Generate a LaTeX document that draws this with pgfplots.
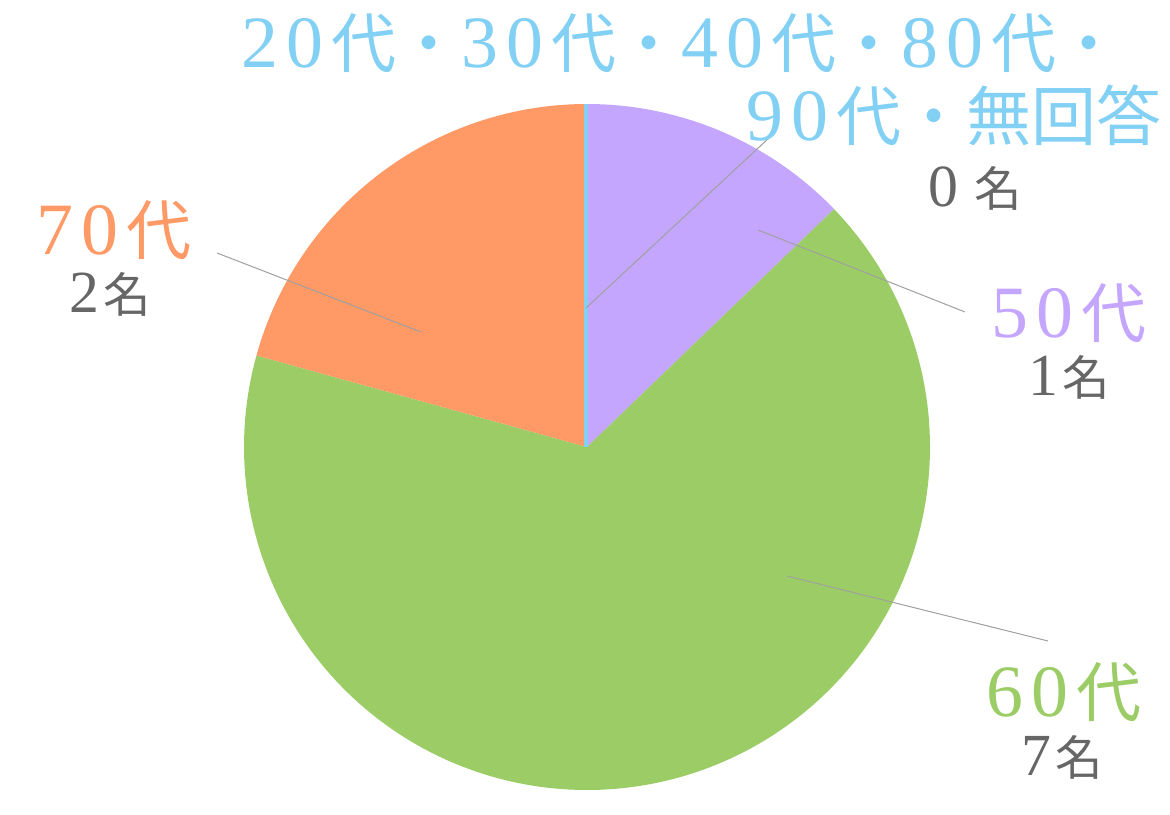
\documentclass[border=0pt]{standalone}
\usepackage{pgfplots}
\pgfplotsset{compat=1.18}
\usepackage{fontspec}
\setmainfont{Liberation Serif}
\newfontfamily\jp{Noto Sans CJK JP}
\definecolor{cBlue}{HTML}{83D0F5}
\definecolor{cPurple}{HTML}{C4A6FF}
\definecolor{cGreen}{HTML}{9BCC66}
\definecolor{cOrange}{HTML}{FF9966}
\definecolor{cText}{HTML}{666666}
\definecolor{cLine}{HTML}{A0A0A0}
% big labels: digits and kanji
\newcommand\bd[1]{{\fontsize{21}{21}\selectfont #1\kern0.8mm}}
\newcommand\bk[1]{{\jp\fontsize{18.5}{18.5}\selectfont #1}}
% small labels
\newcommand\sd[1]{{\fontsize{17}{17}\selectfont #1\kern0.4mm}}
\newcommand\sk[1]{{\jp\fontsize{13.5}{13.5}\selectfont #1}}
% shares of the circle (percent), clockwise from the top
\def\sBlue{0}
\def\sFifty{12.8}
\def\sSixty{66.5}
\def\sSeventy{20.7}
\begin{document}
\begin{tikzpicture}
\begin{axis}[scale only axis, width=117mm, height=81.4mm,
  xmin=0, xmax=1170, ymin=0, ymax=814, y dir=reverse,
  axis lines=none, clip=false, samples=181]
\pgfmathsetmacro{\aA}{-90+3.6*\sBlue}
\pgfmathsetmacro{\aB}{\aA+3.6*\sFifty}
\pgfmathsetmacro{\aC}{\aB+3.6*\sSixty}
\pgfmathsetmacro{\aD}{\aC+3.6*\sSeventy}
\addplot[fill=cPurple, draw=none, domain=\aA:\aB] ({587+343*cos(x)},{447+343*sin(x)}) -- (axis cs:587,447) -- cycle;
\addplot[fill=cGreen, draw=none, domain=\aB:\aC] ({587+343*cos(x)},{447+343*sin(x)}) -- (axis cs:587,447) -- cycle;
\addplot[fill=cOrange, draw=none, domain=\aC:\aD] ({587+343*cos(x)},{447+343*sin(x)}) -- (axis cs:587,447) -- cycle;
\addplot[cBlue, line width=0.35mm] coordinates {(586,447) (586,104)};
% leader lines
\addplot[cLine, line width=0.1mm] coordinates {(586,308) (770,137)};
\addplot[cLine, line width=0.1mm] coordinates {(758,230) (965,312)};
\addplot[cLine, line width=0.1mm] coordinates {(787,576) (1048,641)};
\addplot[cLine, line width=0.1mm] coordinates {(421,332) (217,253)};
% labels
\node[anchor=base west, inner sep=0, text=cBlue] at (axis cs:241,68) {\bd{2}\bd{0}\bk{代・}\bd{3}\bd{0}\bk{代・}\bd{4}\bd{0}\bk{代・}\bd{8}\bd{0}\bk{代・}};
\node[anchor=base west, inner sep=0, text=cBlue] at (axis cs:746,141) {\bd{9}\bd{0}\bk{代・無回答}};
\node[anchor=base west, inner sep=0, text=cText] at (axis cs:928,207) {\sd{0}\kern1.2mm\sk{名}};
\node[anchor=base west, inner sep=0, text=cOrange] at (axis cs:36,255) {\bd{7}\bd{0}\bk{代}};
\node[anchor=base west, inner sep=0, text=cText] at (axis cs:69,312) {\sd{2}\sk{名}};
\node[anchor=base west, inner sep=0, text=cPurple] at (axis cs:991,337) {\bd{5}\bd{0}\bk{代}};
\node[anchor=base west, inner sep=0, text=cText] at (axis cs:1028,395) {\sd{1}\sk{名}};
\node[anchor=base west, inner sep=0, text=cGreen] at (axis cs:986,716) {\bd{6}\bd{0}\bk{代}};
\node[anchor=base west, inner sep=0, text=cText] at (axis cs:1021,775) {\sd{7}\sk{名}};
\path (rel axis cs:0,0) rectangle (rel axis cs:1,1);
\end{axis}
\end{tikzpicture}
\end{document}
